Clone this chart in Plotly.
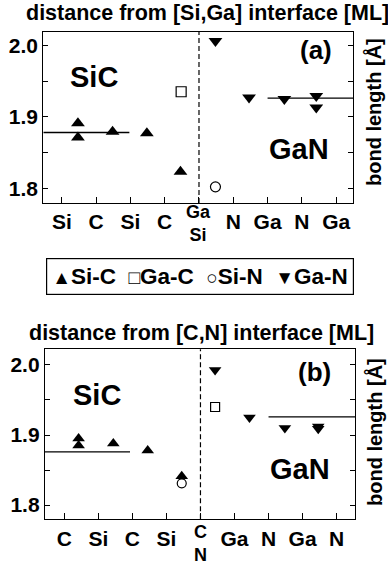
import plotly.graph_objects as go

FONT = "Liberation Sans, Arial, Helvetica, sans-serif"

# ---------------- data ----------------
tick_pos = [1, 2, 3, 4, 5, 6, 7, 8, 9]
xlabels_a = ["Si", "C", "Si", "C", "", "N", "Ga", "N", "Ga"]
xlabels_b = ["C", "Si", "C", "Si", "", "Ga", "N", "Ga", "N"]
interface_label_a = "Ga<br>Si"
interface_label_b = "C<br>N"
y_tickvals = [1.8, 1.85, 1.9, 1.95, 2.0]
y_ticktext = ["1.8", "", "1.9", "", "2.0"]

series_names = ["Si-C", "Ga-C", "Si-N", "Ga-N"]
series_glyphs = ["▲", "□", "○", "▼"]

# panel (a): [Si,Ga] interface
a_sic_x = [1.47, 1.47, 2.48, 3.48, 4.46]
a_sic_y = [1.891, 1.871, 1.879, 1.877, 1.823]
a_gac_x = [4.48]
a_gac_y = [1.935]
a_sin_x = [5.48]
a_sin_y = [1.802]
a_gan_x = [5.48, 6.46, 7.49, 8.42, 8.42]
a_gan_y = [2.006, 1.927, 1.925, 1.929, 1.913]
a_bulk_sic_x = [0.46, 2.97]
a_bulk_sic_y = [1.878, 1.878]
a_bulk_gan_x = [7.0, 9.5]
a_bulk_gan_y = [1.926, 1.926]

# panel (b): [C,N] interface
b_sic_x = [1.42, 1.42, 2.44, 3.45, 4.45]
b_sic_y = [1.895, 1.885, 1.888, 1.878, 1.841]
b_gac_x = [5.43]
b_gac_y = [1.940]
b_sin_x = [4.45]
b_sin_y = [1.831]
b_gan_x = [5.43, 6.44, 7.48, 8.46, 8.46]
b_gan_y = [1.993, 1.925, 1.910, 1.909, 1.912]
b_bulk_sic_x = [0.433, 2.93]
b_bulk_sic_y = [1.876, 1.876]
b_bulk_gan_x = [7.0, 9.54]
b_bulk_gan_y = [1.926, 1.926]

interface_x = 5

# ---------------- figure ----------------
fig = go.Figure()

def add_panel(xa, ya, sic, gac, sin_, gan, bulk1, bulk2, msz):
    for bulk in (bulk1, bulk2):
        fig.add_trace(go.Scatter(x=bulk[0], y=bulk[1], mode="lines",
                                 line=dict(color="black", width=1.3),
                                 xaxis=xa, yaxis=ya, showlegend=False))
    fig.add_trace(go.Scatter(x=sic[0], y=sic[1], mode="markers", name=series_names[0],
                             marker=dict(symbol="triangle-up", size=msz, color="black"),
                             xaxis=xa, yaxis=ya, showlegend=False))
    fig.add_trace(go.Scatter(x=gac[0], y=gac[1], mode="markers", name=series_names[1],
                             marker=dict(symbol="square-open", size=msz - 2, color="black",
                                         line=dict(width=1.2)),
                             xaxis=xa, yaxis=ya, showlegend=False))
    fig.add_trace(go.Scatter(x=sin_[0], y=sin_[1], mode="markers", name=series_names[2],
                             marker=dict(symbol="circle-open", size=msz - 2, color="black",
                                         line=dict(width=1.2)),
                             xaxis=xa, yaxis=ya, showlegend=False))
    fig.add_trace(go.Scatter(x=gan[0], y=gan[1], mode="markers", name=series_names[3],
                             marker=dict(symbol="triangle-down", size=msz, color="black"),
                             xaxis=xa, yaxis=ya, showlegend=False))

add_panel("x", "y", (a_sic_x, a_sic_y), (a_gac_x, a_gac_y), (a_sin_x, a_sin_y),
          (a_gan_x, a_gan_y), (a_bulk_sic_x, a_bulk_sic_y), (a_bulk_gan_x, a_bulk_gan_y), 12)
add_panel("x2", "y2", (b_sic_x, b_sic_y), (b_gac_x, b_gac_y), (b_sin_x, b_sin_y),
          (b_gan_x, b_gan_y), (b_bulk_sic_x, b_bulk_sic_y), (b_bulk_gan_x, b_bulk_gan_y), 11)

W, H = 388, 566

def px_dom_x(l, r):
    return [l / W, r / W]

def px_dom_y(t, b):
    return [1 - b / H, 1 - t / H]

tickfont = dict(family=FONT, size=21, color="black", weight="bold")

xcommon = dict(showgrid=False, zeroline=False, showline=True, linecolor="black",
               linewidth=1.3, mirror=True, ticks="inside", ticklen=6, tickwidth=1.2,
               tickcolor="black", tickmode="array", tickvals=tick_pos, tickfont=tickfont)
ycommon = dict(showgrid=False, zeroline=False, showline=True, linecolor="black",
               linewidth=1.3, mirror="ticks", ticks="inside", ticklen=5, tickwidth=1.2,
               tickcolor="black", tickmode="array", tickvals=y_tickvals,
               ticktext=y_ticktext, tickfont=tickfont)

fig.update_layout(
    width=W, height=H,
    margin=dict(l=0, r=0, t=0, b=0),
    paper_bgcolor="white", plot_bgcolor="white",
    showlegend=False,
    font=dict(family=FONT, color="black"),
    xaxis=dict(xcommon, domain=px_dom_x(43.3, 353.3), range=[0.46, 9.5],
               ticktext=xlabels_a, anchor="y"),
    yaxis=dict(ycommon, domain=px_dom_y(31.7, 203), range=[1.7794, 2.019], anchor="x"),
    xaxis2=dict(xcommon, domain=px_dom_x(45, 355), range=[0.433, 9.54],
                ticktext=xlabels_b, anchor="y2"),
    yaxis2=dict(ycommon, domain=px_dom_y(349.3, 519.3), range=[1.7796, 2.0224], anchor="x2"),
)

# interface lines
for xr, yr in (("x", "y domain"), ("x2", "y2 domain")):
    fig.add_shape(type="line", xref=xr, yref=yr, x0=interface_x, x1=interface_x,
                  y0=0, y1=1, line=dict(color="black", width=1.2, dash="5px,3px"))

bold = lambda s: dict(family=FONT, size=s, color="black", weight="bold")

ann = [
    dict(text="distance from [Si,Ga] interface [ML]", x=207 / W, y=1 - 13 / H, font=bold(21.5)),
    dict(text="distance from [C,N] interface [ML]", x=201 / W, y=1 - 333 / H, font=bold(21.5)),
    dict(text="SiC", x=94 / W, y=1 - 77 / H, font=bold(29)),
    dict(text="GaN", x=299 / W, y=1 - 149 / H, font=bold(29)),
    dict(text="(a)", x=316 / W, y=1 - 50 / H, font=bold(26)),
    dict(text="SiC", x=97 / W, y=1 - 395 / H, font=bold(29)),
    dict(text="GaN", x=300 / W, y=1 - 469 / H, font=bold(29)),
    dict(text="(b)", x=314 / W, y=1 - 372 / H, font=bold(26)),
    dict(text="bond length [Å]", x=374 / W, y=1 - 112 / H, font=bold(20), textangle=-90),
    dict(text="bond length [Å]", x=374 / W, y=1 - 432 / H, font=bold(20), textangle=-90),
]
for a in ann:
    fig.add_annotation(xref="paper", yref="paper", showarrow=False,
                       xanchor="center", yanchor="middle", **a)

# stacked interface tick labels
for xr, lbl, yc in (("x", interface_label_a, 223), ("x2", interface_label_b, 543)):
    fig.add_annotation(xref=xr, yref="paper", x=interface_x, y=1 - yc / H,
                       text=lbl, showarrow=False, xanchor="center", yanchor="middle",
                       font=bold(18))

# legend box
legend_text = " ".join(
    '<span style="font-size:19px">' + g + "</span>" + n + " "
    for g, n in zip(series_glyphs, series_names)).rstrip()
fig.add_annotation(xref="paper", yref="paper", x=200 / W, y=1 - 276 / H,
                   text=legend_text, showarrow=False, xanchor="center", yanchor="middle",
                   font=bold(22.5), bordercolor="black", borderwidth=1.2, borderpad=5)

fig.write_html("out.html", config={"displayModeBar": False},
               post_script="document.body.style.margin='0';")
